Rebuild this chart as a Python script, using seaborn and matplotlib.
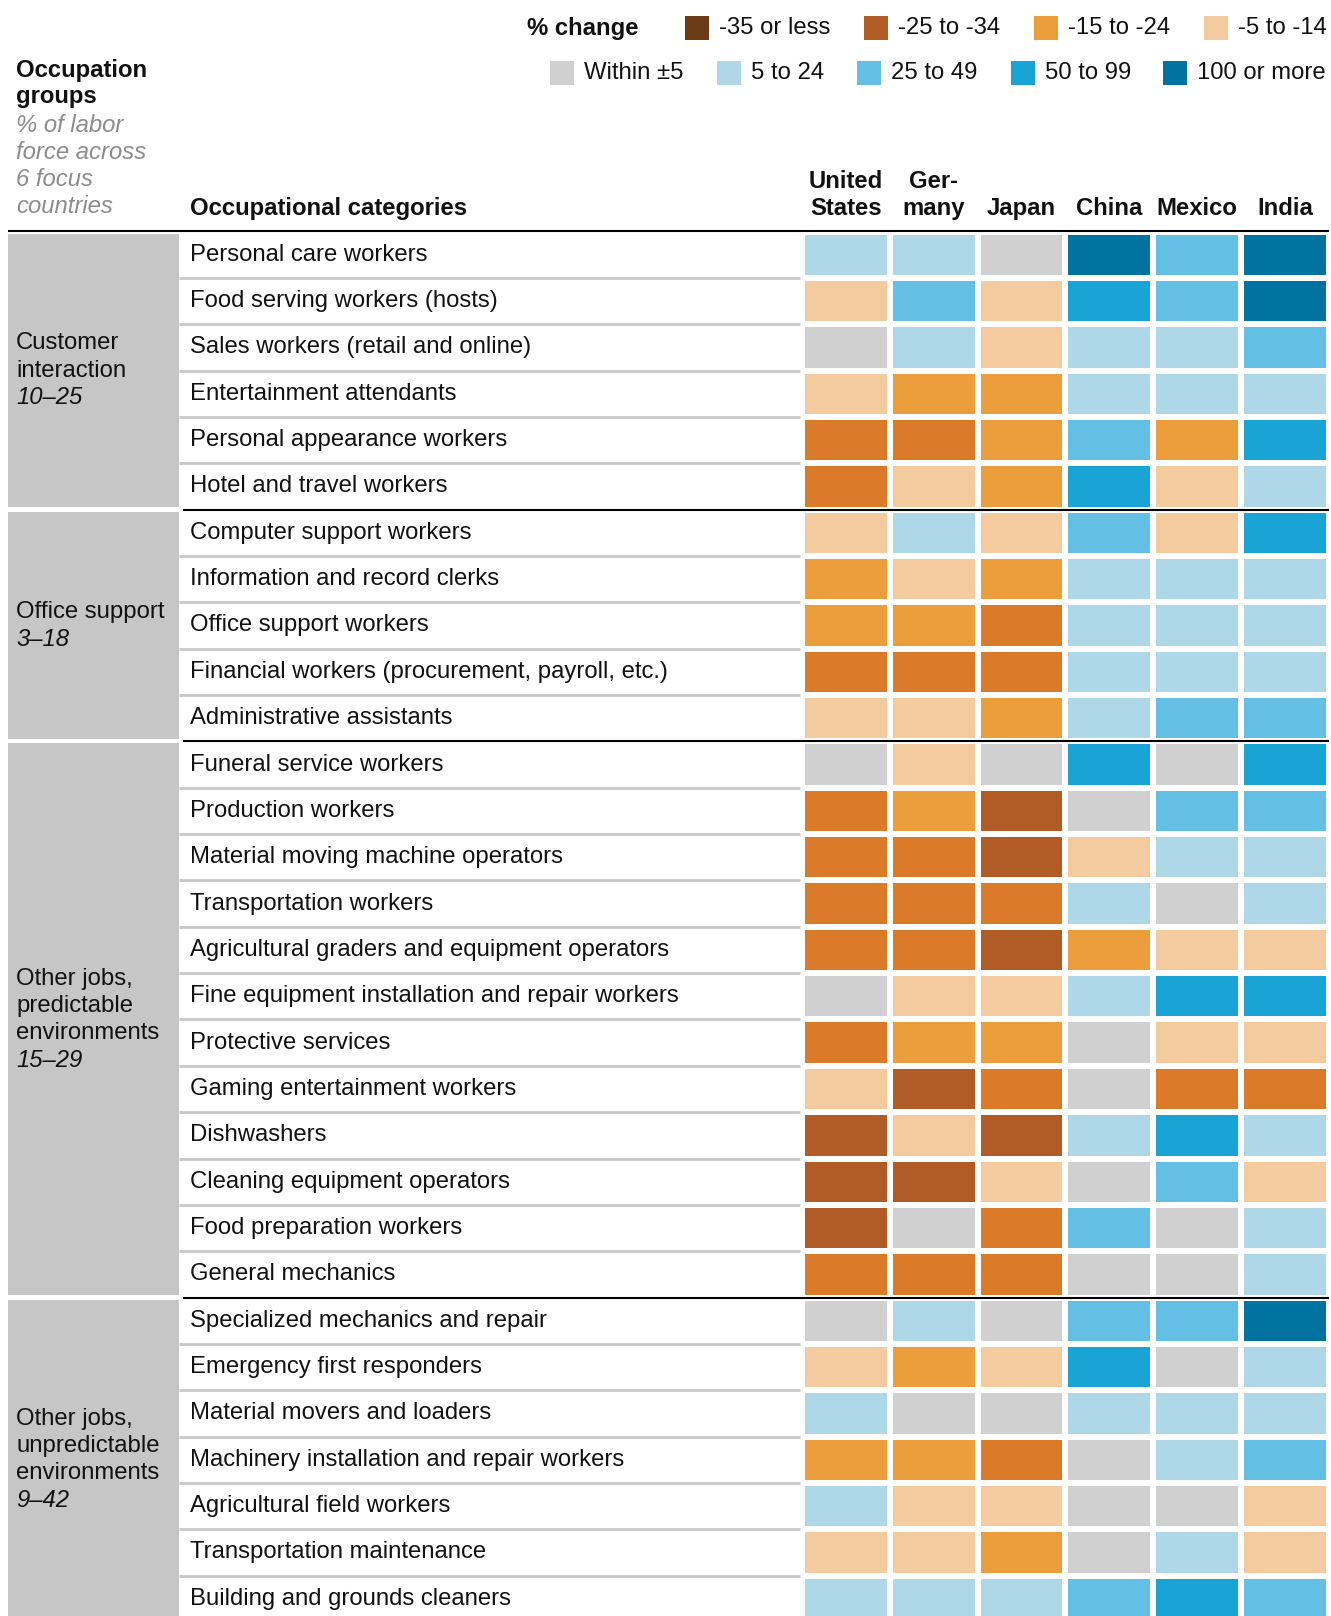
import matplotlib
matplotlib.use("Agg")
import matplotlib.pyplot as plt
from matplotlib.colors import ListedColormap
from matplotlib.patches import Rectangle
import numpy as np
import pandas as pd
import seaborn as sns

# ---- data ----
countries = ["United\nStates", "Ger-\nmany", "Japan", "China", "Mexico", "India"]

groups = ["Customer\ninteraction", "Office support",
          "Other jobs,\npredictable\nenvironments",
          "Other jobs,\nunpredictable\nenvironments"]
group_ranges = ["10–25", "3–18", "15–29", "9–42"]
group_sizes = [6, 5, 12, 7]

occupations = [
    "Personal care workers",
    "Food serving workers (hosts)",
    "Sales workers (retail and online)",
    "Entertainment attendants",
    "Personal appearance workers",
    "Hotel and travel workers",
    "Computer support workers",
    "Information and record clerks",
    "Office support workers",
    "Financial workers (procurement, payroll, etc.)",
    "Administrative assistants",
    "Funeral service workers",
    "Production workers",
    "Material moving machine operators",
    "Transportation workers",
    "Agricultural graders and equipment operators",
    "Fine equipment installation and repair workers",
    "Protective services",
    "Gaming entertainment workers",
    "Dishwashers",
    "Cleaning equipment operators",
    "Food preparation workers",
    "General mechanics",
    "Specialized mechanics and repair",
    "Emergency first responders",
    "Material movers and loaders",
    "Machinery installation and repair workers",
    "Agricultural field workers",
    "Transportation maintenance",
    "Building and grounds cleaners",
]

# change class per country: -4 (largest decline) ... 0 (within ±5) ... 4 (100% or more)
us      = [1, -1, 0, -1, -3, -3, -1, -2, -2, -3, -1, 0, -3, -3, -3, -3, 0, -3, -1, -4, -4, -4, -3, 0, -1, 1, -2, 1, -1, 1]
germany = [1, 2, 1, -2, -3, -1, 1, -1, -2, -3, -1, -1, -2, -3, -3, -3, -1, -2, -4, -1, -4, 0, -3, 1, -2, 0, -2, -1, -1, 1]
japan   = [0, -1, -1, -2, -2, -2, -1, -2, -3, -3, -2, 0, -4, -4, -3, -4, -1, -2, -3, -4, -1, -3, -3, 0, -1, 0, -3, -1, -2, 1]
china   = [4, 3, 1, 1, 2, 3, 2, 1, 1, 1, 1, 3, 0, -1, 1, -2, 1, 0, 0, 1, 0, 2, 0, 2, 3, 1, 0, 0, 0, 2]
mexico  = [2, 2, 1, 1, -2, -1, -1, 1, 1, 1, 2, 0, 2, 1, 0, -1, 3, -1, -3, 3, 2, 0, 0, 2, 0, 1, 1, 0, 1, 3]
india   = [4, 4, 2, 1, 3, 1, 3, 1, 1, 1, 2, 3, 2, 1, 1, -1, 3, -1, -3, 1, -1, 1, 1, 4, 1, 1, 2, -1, -1, 2]

cell_colors = ["#B15B27", "#DB7A28", "#EC9E3C", "#F3CB9E", "#D0D0D0",
               "#AED8E8", "#64BFE4", "#1AA3D5", "#0073A0"]

legend_labels = ["-35 or less", "-25 to -34", "-15 to -24", "-5 to -14",
                 "Within ±5", "5 to 24", "25 to 49", "50 to 99", "100 or more"]
legend_colors = ["#6B3A17", "#B15B27", "#EC9E3C", "#F3CB9E", "#D0D0D0",
                 "#AED8E8", "#64BFE4", "#1AA3D5", "#0073A0"]

# ---- layout (pixel units) ----
W, H = 1331, 1616
top0 = 231.5
row_h = 46.35
col_left = 802
col_w = 87.8
n_rows = len(occupations)

sns.set_theme(style="white")
plt.rcParams["font.family"] = ["Liberation Sans", "DejaVu Sans"]
FS = 17.2

fig = plt.figure(figsize=(W / 100, H / 100), dpi=100)

df = pd.DataFrame({"US": us, "DE": germany, "JP": japan,
                   "CN": china, "MX": mexico, "IN": india}, index=occupations)

hm_bottom = top0 + n_rows * row_h
ax_hm = fig.add_axes([col_left / W, 1 - hm_bottom / H,
                      6 * col_w / W, n_rows * row_h / H])
sns.heatmap(df, ax=ax_hm, cmap=ListedColormap(cell_colors), vmin=-4.5, vmax=4.5,
            cbar=False, linewidths=3.0, linecolor="white",
            xticklabels=False, yticklabels=False)
ax_hm.set_xlabel("")
ax_hm.set_ylabel("")

ax = fig.add_axes([0, 0, 1, 1], zorder=5)
ax.set_xlim(0, W)
ax.set_ylim(H, 0)
ax.axis("off")

# group shading, labels and separators
start = 0
for g, (name, rng, size) in enumerate(zip(groups, group_ranges, group_sizes)):
    y0 = top0 + start * row_h
    y1 = top0 + (start + size) * row_h
    ax.add_patch(Rectangle((8, y0 + 2), 171, (y1 - y0) - 4.5,
                           facecolor="#C6C6C6", edgecolor="none"))
    lines = name.split("\n")
    n_lines = len(lines) + 1
    line_h = 27.3
    yc = (y0 + y1) / 2
    first = yc - (n_lines - 1) * line_h / 2
    for k, ln in enumerate(lines):
        ax.text(16, first + k * line_h, ln, fontsize=FS, va="center", ha="left",
                color="#111111")
    ax.text(16, first + len(lines) * line_h, rng, fontsize=FS, va="center",
            ha="left", style="italic", color="#111111")
    # light separators between rows within the group
    for r in range(start + 1, start + size):
        yb = top0 + r * row_h
        ax.plot([179, 800], [yb, yb], color="#C8C8C8", lw=2, solid_capstyle="butt")
    if g < len(groups) - 1:
        ax.plot([183, 1329], [y1, y1], color="black", lw=1.5, solid_capstyle="butt")
    start += size

# occupation labels
for i, occ in enumerate(occupations):
    ax.text(190, top0 + (i + 0.5) * row_h, occ, fontsize=FS, va="center",
            ha="left", color="#111111")

# header rule
ax.plot([8, 1329], [top0 - 0.5, top0 - 0.5], color="black", lw=1.5,
        solid_capstyle="butt")

# column headers
for j, c in enumerate(countries):
    ax.text(col_left + (j + 0.5) * col_w, 215, c, fontsize=FS, fontweight="bold",
            ha="center", va="baseline", linespacing=1.25, color="#111111")
ax.text(190, 215, "Occupational categories", fontsize=FS, fontweight="bold",
        ha="left", va="baseline", color="#111111")

# left header
head_y = [70, 97]
for k, t in enumerate(["Occupation", "groups"]):
    ax.text(16, head_y[k], t, fontsize=FS, fontweight="bold", ha="left",
            va="center", color="#111111")
for k, t in enumerate(["% of labor", "force across", "6 focus", "countries"]):
    ax.text(16, 125 + k * 27.3, t, fontsize=FS, style="italic", ha="left",
            va="center", color="#8C8C8C")

# legend
ax.text(527, 28, "% change", fontsize=FS, fontweight="bold", ha="left",
        va="center", color="#111111")
leg_pos = [(685, 28), (864, 28), (1034, 28), (1204, 28),
           (550, 73), (717, 73), (857, 73), (1011, 73), (1163, 73)]
sq = 24
for (x, y), lab, col in zip(leg_pos, legend_labels, legend_colors):
    ax.add_patch(Rectangle((x, y - sq / 2), sq, sq, facecolor=col, edgecolor="none"))
    ax.text(x + sq + 10, y, lab, fontsize=FS, ha="left", va="center",
            color="#111111")

fig.savefig("out.png", dpi=100, facecolor="white")
